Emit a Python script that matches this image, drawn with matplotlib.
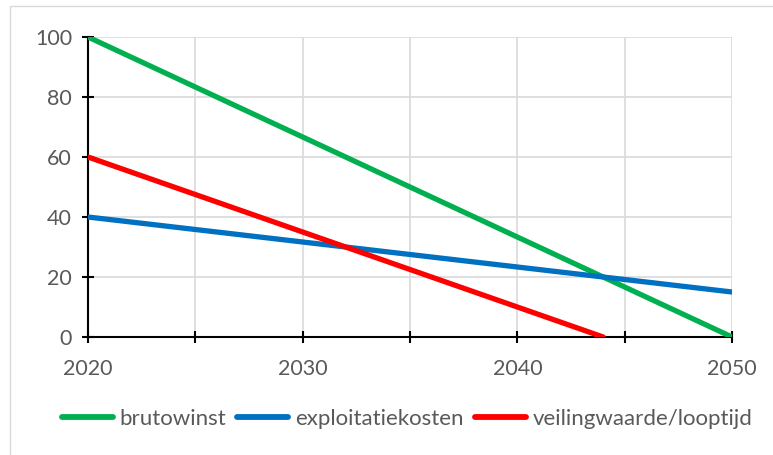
import matplotlib
matplotlib.use("Agg")
import matplotlib.pyplot as plt
from matplotlib.patches import Rectangle

# data
years = [2020, 2050]
brutowinst = [100, 0]
exploitatiekosten = [40, 15]
veiling_years = [2020, 2044]
veilingwaarde = [60, 0]

plt.rcParams['font.family'] = ['Lato', 'DejaVu Sans']

fig = plt.figure(figsize=(7.73, 4.55), dpi=100)
ax = fig.add_axes([88/773, 1 - 337/455, (732-88)/773, (337-37)/455])

# chart border (light grey frame)
fig.patches.append(Rectangle((10/773, -0.01), 1.0, 1 - 6/455 + 0.01,
                             transform=fig.transFigure, fill=False,
                             edgecolor='#D9D9D9', linewidth=1))

ax.plot(years, brutowinst, color='#00B050', lw=3.8, label='brutowinst',
        solid_capstyle='round', zorder=3)
ax.plot(years, exploitatiekosten, color='#0070C0', lw=3.8, label='exploitatiekosten',
        solid_capstyle='round', zorder=3)
ax.plot(veiling_years, veilingwaarde, color='#FF0000', lw=3.8, label='veilingwaarde/looptijd',
        solid_capstyle='round', zorder=3)

ax.set_xlim(2020, 2050)
ax.set_ylim(0, 100)
ax.set_xticks(range(2020, 2051, 5))
ax.set_xticklabels([str(y) if y % 10 == 0 else '' for y in range(2020, 2051, 5)])
ax.set_yticks(range(0, 101, 20))
ax.grid(True, color='#D9D9D9', lw=1.2, zorder=0)

for s in ['top', 'right']:
    ax.spines[s].set_visible(False)
for s in ['left', 'bottom']:
    ax.spines[s].set_color('black')
    ax.spines[s].set_linewidth(1.5)

ax.tick_params(direction='inout', length=9, width=1.5, color='black',
               labelsize=15.5, labelcolor='#595959')
ax.tick_params(axis='x', pad=11)
ax.tick_params(axis='y', pad=7)

leg = fig.legend(loc='center', bbox_to_anchor=(407/773, 1 - 419/455), ncol=3,
                 frameon=False, fontsize=16, handlelength=2.3, handletextpad=0.3,
                 columnspacing=0.5)
for t in leg.get_texts():
    t.set_color('#595959')
for h in leg.legend_handles:
    h.set_linewidth(4.2)

fig.savefig('out.png', dpi=100)
